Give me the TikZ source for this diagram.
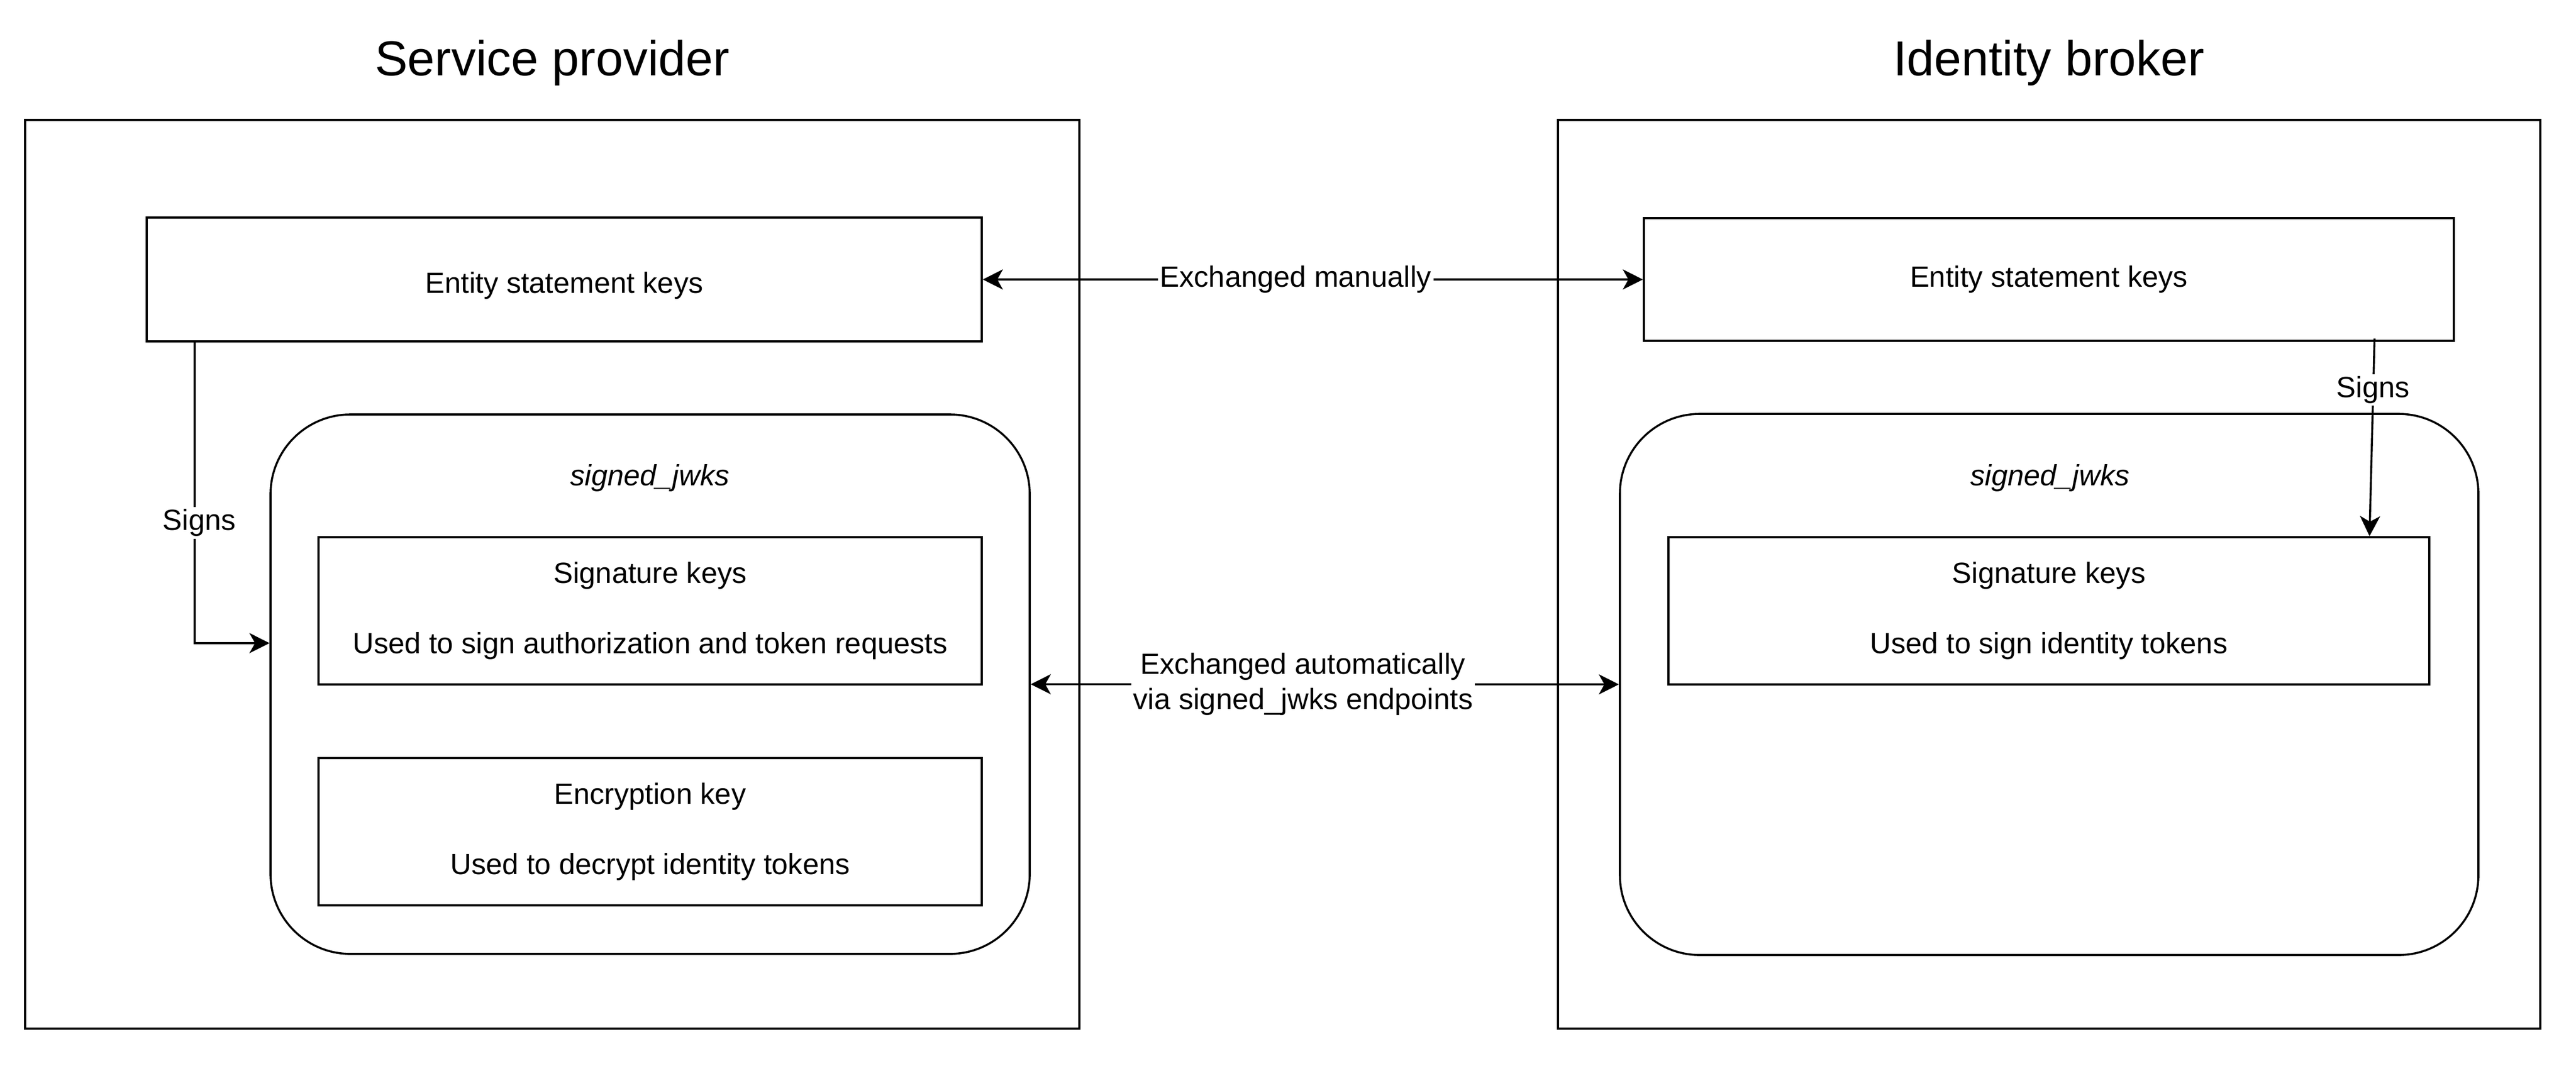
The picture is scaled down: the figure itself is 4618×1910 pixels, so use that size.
\documentclass[tikz,border=0pt]{standalone}
\usepackage{fontspec}
\setmainfont{Liberation Sans}
\usetikzlibrary{positioning,arrows.meta}

\begin{document}
\begin{tikzpicture}[x=0.25pt,y=-0.25pt,line width=0.9pt,
    font=\fontsize{13.1}{15.75}\selectfont,
    >={Stealth[length=9pt,width=9pt,inset=2.5pt]},
    box/.style={draw,rectangle,inner sep=0pt,align=center},
    jwks/.style={draw,rectangle,rounded corners=35.75pt,inner sep=0pt},
    title/.style={font=\fontsize{22}{26}\selectfont,anchor=base},
    lbl/.style={fill=white,inner sep=1pt,align=center}]
        \useasboundingbox (0,0) rectangle (4618,1910);

        % Service provider
        \node[title] (sptitle) at (990,135) {Service provider};
        \node[box,minimum width=472.5pt,minimum height=407.25pt] (sp) at (990,1029.5) {};
        \node[box,minimum width=374.25pt,minimum height=55.5pt] (spent) at (1011.5,501)
          {\raisebox{-2.75pt}[\height][\depth]{Entity statement keys}};
        \node[jwks,minimum width=340.25pt,minimum height=241.75pt] (spjwks) at (1165.5,1226.5) {};
        \node (spjwkstitle) at (1165,857) {\textit{signed\_jwks}};
        \node[box,minimum width=297.25pt,minimum height=66pt] (spsig) at (1165.5,1095)
          {Signature keys\\[15.75pt]Used to sign authorization and token requests};
        \node[box,minimum width=297.25pt,minimum height=66pt] (spenc) at (1165.5,1491)
          {Encryption key\\[15.75pt]Used to decrypt identity tokens};

        % Identity broker
        \node[title] (ibtitle) at (3673,135) {Identity broker};
        \node[box,minimum width=440.25pt,minimum height=407.25pt] (ib) at (3673.5,1029.5) {};
        \node[box,minimum width=363pt,minimum height=55pt] (ibent) at (3673,501) {Entity statement keys};
        \node[jwks,minimum width=384.75pt,minimum height=242.5pt] (ibjwks) at (3673.5,1227) {};
        \node (ibjwkstitle) at (3675,857) {\textit{signed\_jwks}};
        \node[box,minimum width=341pt,minimum height=66pt] (ibsig) at (3673,1095)
          {Signature keys\\[15.75pt]Used to sign identity tokens};

        % exchanges
        \draw[<->] (spent) -- (ibent) node[lbl,pos=0.474] {Exchanged manually};
        \draw[<->] (spjwks) -- (ibjwks)
          node[lbl,pos=0.463] {Exchanged automatically\\via signed\_jwks endpoints};

        % signing
        \draw[->] ([xshift=22pt]spent.south west) |- ([yshift=18.4pt]spjwks.west)
          node[lbl,pos=0.3,xshift=2pt] {Signs};
        \draw[->] ([xshift=-36pt,yshift=1.5pt]ibent.south east) -- ([xshift=-27.25pt]ibsig.north east)
          node[lbl,pos=0.26] {Signs};
\end{tikzpicture}
\end{document}
